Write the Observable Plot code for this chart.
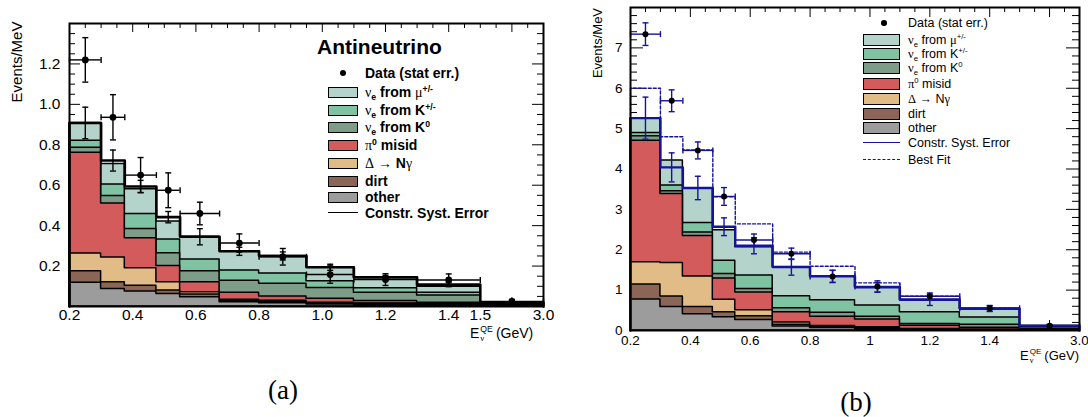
<!DOCTYPE html>
<html>
<head>
<meta charset="utf-8">
<script src="https://cdn.jsdelivr.net/npm/d3@7"></script>
<script src="https://cdn.jsdelivr.net/npm/@observablehq/plot@0.6"></script>
<style>
  html, body { margin: 0; padding: 0; background: #fff; }
  body { position: relative; width: 1088px; height: 417px; overflow: hidden;
         font-family: "Liberation Sans", Arial, sans-serif; color: #000; }
  .abs { position: absolute; white-space: nowrap; }
  .panel svg { overflow: visible; display: block; }
  .g { font-family: "Liberation Serif", "DejaVu Serif", serif; font-style: normal; font-weight: normal; }
  sup, sub { font-size: 0.62em; line-height: 0; }
  sup { vertical-align: 0.6em; }
  sub { vertical-align: -0.35em; }
  .sw { position: absolute; box-sizing: border-box; border: 1.5px solid #000; }
  .ss { display: inline-flex; flex-direction: column; font-size: 0.62em; line-height: 1.05;
        vertical-align: middle; margin: 0 3px 0 1px; }
  .row { position: absolute; white-space: nowrap; height: 18px; line-height: 18px; }
</style>
</head>
<body>
<div id="panelA" class="abs panel" style="left:0;top:0"></div>
<div id="panelB" class="abs panel" style="left:585px;top:0"></div>
<div id="legends"></div>

<div class="abs" style="left:16px;top:62px;transform:translate(-50%,-50%) rotate(-90deg);font-size:15px">Events/MeV</div>
<div class="abs" style="left:597px;top:43px;transform:translate(-50%,-50%) rotate(-90deg);font-size:13px">Events/MeV</div>
<div class="abs" style="left:470px;top:325px;font-size:14px">E<span class="ss"><span>QE</span><span class="g">ν</span></span>(GeV)</div>
<div class="abs" style="left:1020px;top:348px;font-size:13px">E<span class="ss"><span>QE</span><span class="g">ν</span></span>(GeV)</div>
<div class="abs" style="left:283px;top:390px;transform:translate(-50%,-50%);font:27px 'Liberation Serif', serif">(a)</div>
<div class="abs" style="left:856px;top:402px;transform:translate(-50%,-50%);font:27px 'Liberation Serif', serif">(b)</div>

<script>
// Reconstructed-energy bins (GeV); the last bin 1.5-3.0 is drawn compressed.
const binEdges = [0.2, 0.3, 0.375, 0.475, 0.55, 0.675, 0.8, 0.95, 1.1, 1.3, 1.5, 3.0];

// Stack components, top of the stack first.
const componentKeys = ["mu", "kpm", "k0", "pi0", "delta", "dirt", "other"];
const componentColors = ["#b4d3ca", "#80c3a2", "#7e9d88", "#d45b5b", "#e1bc87", "#8b6656", "#9c9c9c"];
const componentLabels = [
  '<span class="g">ν</span><sub>e</sub> from <span class="g">μ</span><sup>+/-</sup>',
  '<span class="g">ν</span><sub>e</sub> from K<sup>+/-</sup>',
  '<span class="g">ν</span><sub>e</sub> from K<sup>0</sup>',
  '<span class="g">π</span><sup>0</sup> misid',
  '<span class="g">Δ</span> <span class="g">→</span> N<span class="g">γ</span>',
  'dirt',
  'other'
];

// (a) antineutrino mode, events/MeV per component
const antiMu    = [0.088, 0.101, 0.123, 0.088, 0.113, 0.095, 0.087, 0.069, 0.054, 0.030, 0.005];
const antiKpm   = [0.035, 0.057, 0.074, 0.069, 0.058, 0.051, 0.050, 0.033, 0.022, 0.013, 0.002];
const antiK0    = [0.025, 0.038, 0.045, 0.063, 0.054, 0.059, 0.063, 0.054, 0.041, 0.036, 0.006];
const antiPi0   = [0.498, 0.266, 0.149, 0.080, 0.050, 0.035, 0.022, 0.020, 0.012, 0.008, 0.002];
const antiDelta = [0.088, 0.123, 0.086, 0.041, 0.011, 0.006, 0.006, 0.004, 0.003, 0.002, 0.001];
const antiDirt  = [0.056, 0.033, 0.029, 0.017, 0.013, 0.006, 0.006, 0.004, 0.004, 0.003, 0.001];
const antiOther = [0.118, 0.087, 0.074, 0.062, 0.046, 0.021, 0.016, 0.010, 0.008, 0.006, 0.003];
const antiConstr    = [0.908, 0.722, 0.594, 0.442, 0.345, 0.273, 0.250, 0.194, 0.144, 0.108, 0.020];
const antiConstrErr = [0.078, 0.052, 0.030, 0.028, 0.040, 0.020, 0.020, 0.015, 0.010, 0.010, 0.003];
const antiData    = [1.220, 0.936, 0.650, 0.575, 0.460, 0.314, 0.246, 0.158, 0.133, 0.131, 0.025];
const antiDataErr = [0.110, 0.112, 0.087, 0.086, 0.056, 0.045, 0.041, 0.043, 0.029, 0.030, 0.010];

// (b) neutrino mode, events/MeV per component
const nuMu    = [0.37, 0.62, 0.85, 0.75, 0.70, 0.72, 0.59, 0.45, 0.31, 0.22, 0.030];
const nuKpm   = [0.08, 0.14, 0.23, 0.33, 0.33, 0.30, 0.31, 0.28, 0.29, 0.18, 0.040];
const nuK0    = [0.11, 0.07, 0.09, 0.11, 0.09, 0.10, 0.10, 0.07, 0.04, 0.07, 0.020];
const nuPi0   = [3.01, 1.71, 1.00, 0.53, 0.44, 0.25, 0.23, 0.19, 0.08, 0.05, 0.010];
const nuDelta = [0.55, 0.83, 0.76, 0.31, 0.15, 0.06, 0.03, 0.02, 0.01, 0.005, 0.003];
const nuDirt  = [0.37, 0.26, 0.18, 0.12, 0.09, 0.04, 0.02, 0.02, 0.01, 0.005, 0.002];
const nuOther = [0.77, 0.58, 0.40, 0.33, 0.26, 0.10, 0.06, 0.04, 0.02, 0.01, 0.005];
const nuConstr    = [5.26, 4.04, 3.53, 2.57, 2.10, 1.57, 1.34, 1.07, 0.76, 0.54, 0.12];
const nuConstrErr = [0.52, 0.36, 0.29, 0.22, 0.20, 0.20, 0.15, 0.12, 0.14, 0.07, 0.02];
const nuBestFit   = [6.00, 4.80, 4.47, 3.31, 2.64, 1.94, 1.59, 1.18, 0.85, 0.55, 0.12];
const nuData      = [7.34, 5.69, 4.46, 3.32, 2.24, 1.90, 1.34, 1.09, 0.85, 0.55, 0.12];
const nuDataErr   = [0.28, 0.27, 0.21, 0.22, 0.15, 0.14, 0.15, 0.14, 0.08, 0.07, 0.03];

// Tick labels
const antiXLabels = [[0.2, "0.2"], [0.4, "0.4"], [0.6, "0.6"], [0.8, "0.8"], [1.0, "1.0"], [1.2, "1.2"], [1.4, "1.4"], [1.5, "1.5"], [3.0, "3.0"]];
const antiYLabels = [[0.2, "0.2"], [0.4, "0.4"], [0.6, "0.6"], [0.8, "0.8"], [1.0, "1.0"], [1.2, "1.2"]];
const nuXLabels = [[0.2, "0.2"], [0.4, "0.4"], [0.6, "0.6"], [0.8, "0.8"], [1.0, "1"], [1.2, "1.2"], [1.4, "1.4"], [3.0, "3.0"]];
const nuYLabels = [[0, "0"], [1, "1"], [2, "2"], [3, "3"], [4, "4"], [5, "5"], [6, "6"], [7, "7"]];

// Energy axis: linear up to 1.5 GeV, then 1.5-3.0 squeezed into 0.2 GeV of width.
const ex = e => (e <= 1.5 ? e : 1.5 + (e - 1.5) * 0.2 / 1.5);

// Short cap strokes for error-bar ends.
const capH = {draw(ctx, size) { const s = Math.sqrt(size / Math.PI); ctx.moveTo(-s, 0); ctx.lineTo(s, 0); }};
const capV = {draw(ctx, size) { const s = Math.sqrt(size / Math.PI); ctx.moveTo(0, -s); ctx.lineTo(0, s); }};

function tickSet(start, end, step, majorStep) {
  const n = Math.round((end - start) / step);
  return d3.range(n + 1).map(j => {
    const v = +(start + j * step).toFixed(4);
    return {v, major: Math.abs(v / majorStep - Math.round(v / majorStep)) < 1e-6};
  });
}

function makePanel(cfg) {
  const m = cfg.margin;
  const xDom = [0.2, 1.7];
  const kx = (cfg.width - m.left - m.right) / (xDom[1] - xDom[0]);
  const ky = (cfg.height - m.top - m.bottom) / cfg.yMax;
  const nb = binEdges.length - 1;
  const bins = d3.range(nb).map(i => {
    const lo = ex(binEdges[i]), hi = ex(binEdges[i + 1]);
    return {i, lo, hi, c: (lo + hi) / 2};
  });

  // cumulative stack, built from the bottom ("other") upwards
  const cum = {};
  let run = new Array(nb).fill(0);
  for (const k of componentKeys.slice().reverse()) {
    run = run.map((r, i) => r + cfg.comps[k][i]);
    cum[k] = run;
  }
  const stackPts = [];
  for (const k of componentKeys) {
    bins.forEach(b => stackPts.push({comp: k, x: b.lo, y: cum[k][b.i]}));
    stackPts.push({comp: k, x: bins[nb - 1].hi, y: cum[k][nb - 1]});
  }

  // histogram outline with vertical edges down to zero at both ends
  const histLine = vals => {
    const pts = [{x: bins[0].lo, y: 0}];
    bins.forEach(b => pts.push({x: b.lo, y: vals[b.i]}));
    pts.push({x: bins[nb - 1].hi, y: vals[nb - 1]});
    pts.push({x: bins[nb - 1].hi, y: 0});
    return pts;
  };

  const yTicks = tickSet(0, cfg.yMax, cfg.yMinor, cfg.yMajor);
  const xTicks = tickSet(0.2, 1.7, 0.05, 0.2);
  const yLen = d => (d.major ? cfg.yTickLen[0] : cfg.yTickLen[1]) / kx;
  const xLen = d => (d.major ? cfg.xTickLen[0] : cfg.xTickLen[1]) / ky;
  const tickStyle = {stroke: "black", strokeWidth: 1};

  const marks = [
    Plot.ruleY(yTicks, {y: "v", x1: () => xDom[0], x2: d => xDom[0] + yLen(d), ...tickStyle}),
    Plot.ruleY(yTicks, {y: "v", x1: () => xDom[1], x2: d => xDom[1] - yLen(d), ...tickStyle}),
    Plot.ruleX(xTicks, {x: "v", y1: () => 0, y2: d => xLen(d), ...tickStyle}),
    Plot.ruleX(xTicks, {x: "v", y1: () => cfg.yMax, y2: d => cfg.yMax - xLen(d), ...tickStyle}),
    Plot.areaY(stackPts, {x: "x", y1: () => 0, y2: "y", z: "comp", fill: "comp",
      stroke: "black", strokeWidth: cfg.outline, curve: "step-after"})
  ];

  for (const ln of cfg.lines) {
    marks.push(Plot.line(histLine(ln.vals), {x: "x", y: "y", curve: "step-after",
      stroke: ln.stroke, strokeWidth: ln.width, strokeDasharray: ln.dash || null}));
  }

  // prediction error bars
  const pv = cfg.constr, pe = cfg.constrErr;
  marks.push(
    Plot.ruleX(bins, {x: "c", y1: d => pv[d.i] - pe[d.i], y2: d => pv[d.i] + pe[d.i], stroke: cfg.errColor, strokeWidth: 1.4}),
    Plot.dot(bins.flatMap(b => [{x: b.c, y: pv[b.i] - pe[b.i]}, {x: b.c, y: pv[b.i] + pe[b.i]}]),
      {x: "x", y: "y", symbol: capH, r: cfg.cap, stroke: cfg.errColor, fill: "none", strokeWidth: 1.4})
  );

  // data with statistical errors
  const dv = cfg.data, de = cfg.dataErr;
  marks.push(
    Plot.ruleY(bins, {y: d => dv[d.i], x1: "lo", x2: "hi", stroke: cfg.errColor, strokeWidth: 1.4}),
    Plot.ruleX(bins, {x: "c", y1: d => dv[d.i] - de[d.i], y2: d => dv[d.i] + de[d.i], stroke: cfg.errColor, strokeWidth: 1.4}),
    Plot.dot(bins.flatMap(b => [{x: b.c, y: dv[b.i] - de[b.i]}, {x: b.c, y: dv[b.i] + de[b.i]}]),
      {x: "x", y: "y", symbol: capH, r: cfg.cap, stroke: cfg.errColor, fill: "none", strokeWidth: 1.4}),
    Plot.dot(bins.flatMap(b => [{x: b.lo, y: dv[b.i]}, {x: b.hi, y: dv[b.i]}]),
      {x: "x", y: "y", symbol: capV, r: cfg.cap, stroke: cfg.errColor, fill: "none", strokeWidth: 1.4}),
    Plot.dot(bins, {x: "c", y: d => dv[d.i], r: cfg.dotR, fill: "black", stroke: "none"}),
    Plot.frame({stroke: "black", strokeWidth: 2}),
    Plot.text(cfg.xLabels, {x: d => ex(d[0]), y: () => 0, text: d => d[1], dy: cfg.xLabelDy, fontSize: cfg.fontSize}),
    Plot.text(cfg.yLabels, {x: () => xDom[0], y: d => d[0], text: d => d[1], dx: cfg.yLabelDx, textAnchor: "end", fontSize: cfg.fontSize})
  );

  return Plot.plot({
    width: cfg.width, height: cfg.height,
    marginTop: m.top, marginRight: m.right, marginBottom: m.bottom, marginLeft: m.left,
    x: {domain: xDom, axis: null},
    y: {domain: [0, cfg.yMax], axis: null},
    color: {domain: componentKeys, range: componentColors},
    style: {fontFamily: "'Liberation Sans', Arial, sans-serif", background: "transparent", overflow: "visible", color: "black"},
    marks
  });
}

const navy = "#14149a";

document.getElementById("panelA").appendChild(makePanel({
  width: 560, height: 340, margin: {top: 23, right: 17, bottom: 34, left: 69},
  yMax: 1.4, yMajor: 0.2, yMinor: 0.05, yTickLen: [11, 6], xTickLen: [9, 5],
  comps: {mu: antiMu, kpm: antiKpm, k0: antiK0, pi0: antiPi0, delta: antiDelta, dirt: antiDirt, other: antiOther},
  outline: 1.5,
  lines: [{vals: antiConstr, stroke: "black", width: 2.6}],
  constr: antiConstr, constrErr: antiConstrErr,
  data: antiData, dataErr: antiDataErr,
  errColor: "black", cap: 3, dotR: 3.4,
  xLabels: antiXLabels, yLabels: antiYLabels, xLabelDy: 9, yLabelDx: -9, fontSize: 15.5
}));

document.getElementById("panelB").appendChild(makePanel({
  width: 503, height: 360, margin: {top: 7, right: 9, bottom: 30, left: 45},
  yMax: 8, yMajor: 1, yMinor: 0.2, yTickLen: [13, 7], xTickLen: [10, 5],
  comps: {mu: nuMu, kpm: nuKpm, k0: nuK0, pi0: nuPi0, delta: nuDelta, dirt: nuDirt, other: nuOther},
  outline: 1.5,
  lines: [
    {vals: nuBestFit, stroke: navy, width: 1.4, dash: "3,2"},
    {vals: nuConstr, stroke: navy, width: 2.4}
  ],
  constr: nuConstr, constrErr: nuConstrErr,
  data: nuData, dataErr: nuDataErr,
  errColor: navy, cap: 3, dotR: 3,
  xLabels: nuXLabels, yLabels: nuYLabels, xLabelDy: 10, yLabelDx: -8, fontSize: 13.5
}));

// Legends
function buildLegend(o) {
  let html = "";
  if (o.title) {
    html += `<div class="row" style="left:${o.titleX}px;top:${o.titleY - 13}px;height:26px;line-height:26px;font:bold 21px 'Liberation Sans', Arial, sans-serif">${o.title}</div>`;
  }
  const rowStyle = `font-size:${o.fontSize}px;font-weight:${o.weight}`;
  html += `<div class="abs" style="left:${o.dotX - o.dotR}px;top:${o.dataY - o.dotR}px;width:${2 * o.dotR}px;height:${2 * o.dotR}px;border-radius:50%;background:#000"></div>`;
  html += `<div class="row" style="left:${o.textX}px;top:${o.dataY - 9}px;${rowStyle}">Data (stat err.)</div>`;
  componentKeys.forEach((k, i) => {
    const y = o.rows[i];
    html += `<div class="sw" style="left:${o.boxX}px;top:${y - o.boxH / 2}px;width:${o.boxW}px;height:${o.boxH}px;background:${componentColors[i]}"></div>`;
    html += `<div class="row" style="left:${o.textX}px;top:${y - 9}px;${rowStyle}">${componentLabels[i]}</div>`;
  });
  o.lines.forEach(l => {
    html += `<div class="abs" style="left:${o.boxX}px;top:${l.y - 1}px;width:${o.boxW}px;height:0;border-top:${l.w}px ${l.dash ? "dashed" : "solid"} ${l.color}"></div>`;
    html += `<div class="row" style="left:${o.textX}px;top:${l.y - 9}px;${rowStyle}">${l.text}</div>`;
  });
  const div = document.createElement("div");
  div.innerHTML = html;
  document.getElementById("legends").appendChild(div);
}

buildLegend({
  title: "Antineutrino", titleX: 317, titleY: 48,
  fontSize: 14, weight: "bold",
  dotX: 343, dotR: 3.4, dataY: 73, textX: 365,
  boxX: 328, boxW: 30, boxH: 11,
  rows: [92, 110, 127, 145, 163, 181, 197],
  lines: [{y: 213, w: 1.5, color: "black", text: "Constr. Syst. Error"}]
});

buildLegend({
  fontSize: 12.5, weight: "normal",
  dotX: 884, dotR: 2.8, dataY: 23, textX: 908,
  boxX: 863, boxW: 37, boxH: 11.5,
  rows: [40, 54, 68, 84, 99, 114, 128],
  lines: [
    {y: 143, w: 1.5, color: navy, text: "Constr. Syst. Error"},
    {y: 160, w: 1.5, color: navy, dash: true, text: "Best Fit"}
  ]
});
</script>
</body>
</html>
